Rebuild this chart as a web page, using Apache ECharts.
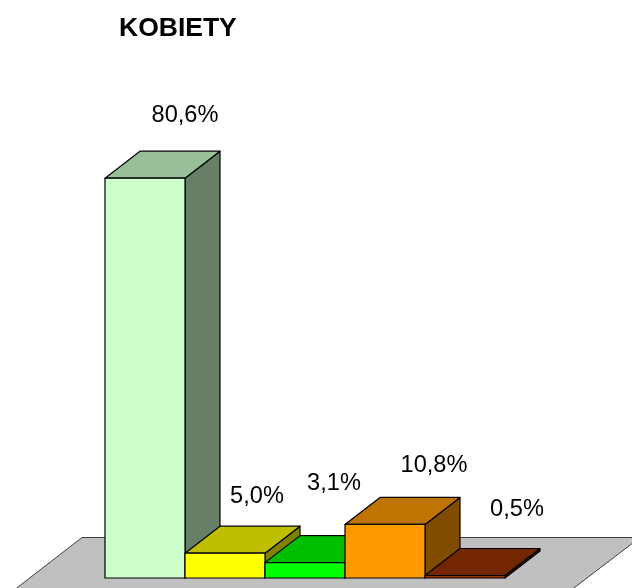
<!DOCTYPE html>
<html>
<head>
<meta charset="utf-8">
<title>KOBIETY</title>
<script src="https://cdn.jsdelivr.net/npm/echarts@6/dist/echarts.min.js"></script>
<style>
  html, body { margin: 0; padding: 0; background: #fff; }
  #chart { width: 632px; height: 588px; }
</style>
</head>
<body>
<div id="chart"></div>
<script>
const categories = ['A', 'B', 'C', 'D', 'E'];
const values = [80.6, 5.0, 3.1, 10.8, 0.5];

const frontColors = ['#CCFFCC', '#FFFF00', '#00FF00', '#FF9900', '#993300'];
const topColors = ['#99BF99', '#BFBF00', '#00BF00', '#BF7300', '#732600'];
const sideColors = ['#667F66', '#7F7F00', '#007F00', '#7F4C00', '#4C1900'];

// labels were placed by hand in the original, so each has its own shift from the bar's top
const labelShiftX = [40, 32, 29, 49, 52];
const labelShiftY = [-63, -57, -79, -59, -66];

const depthX = 35;
const depthY = -27;

const chart = echarts.init(document.getElementById('chart'));

const renderBar = (params, api) => {
  const i = api.value(0);
  const top = api.coord([i, api.value(1)]);
  const base = api.coord([i, 0]);
  const w = api.size([1, 0])[0];
  const x0 = top[0] - w / 2;
  const x1 = top[0] + w / 2;
  const y0 = top[1];
  const y1 = base[1];
  const edge = { stroke: '#000', lineWidth: 1.2, lineJoin: 'round' };
  const poly = (points, fill) => ({
    type: 'polygon',
    shape: { points },
    style: { fill, ...edge }
  });
  return {
    type: 'group',
    children: [
      poly([[x1, y0], [x1 + depthX, y0 + depthY], [x1 + depthX, y1 + depthY], [x1, y1]], sideColors[i]),
      poly([[x0, y0], [x0 + depthX, y0 + depthY], [x1 + depthX, y0 + depthY], [x1, y0]], topColors[i]),
      poly([[x0, y0], [x1, y0], [x1, y1], [x0, y1]], frontColors[i]),
      {
        type: 'text',
        z2: 10,
        style: {
          text: api.value(1).toFixed(1).replace('.', ',') + '%',
          x: top[0] + labelShiftX[i],
          y: y0 + labelShiftY[i],
          align: 'center',
          verticalAlign: 'middle',
          fill: '#000',
          font: '23.6px "Liberation Sans", Arial, sans-serif'
        }
      }
    ]
  };
};

chart.setOption({
  animation: false,
  title: {
    text: 'KOBIETY',
    left: 114,
    top: 10,
    textStyle: {
      fontFamily: '"Liberation Sans", Arial, sans-serif',
      fontWeight: 'bold',
      fontSize: 26.5,
      color: '#000'
    }
  },
  grid: { left: 105, width: 400, top: 82, bottom: 10 },
  xAxis: { type: 'category', data: categories, show: false },
  yAxis: { type: 'value', min: 0, max: 100, show: false },
  // floor of the 3D scene
  graphic: [{
    type: 'polygon',
    z: 0,
    shape: { points: [[82, 537.5], [640, 537.5], [566, 594], [9, 594]] },
    style: { fill: '#C0C0C0', stroke: '#404040', lineWidth: 1 }
  }],
  series: [{
    type: 'custom',
    z: 2,
    clip: false,
    renderItem: renderBar,
    encode: { x: 0, y: 1 },
    data: values.map((v, i) => [i, v])
  }]
});
</script>
</body>
</html>
